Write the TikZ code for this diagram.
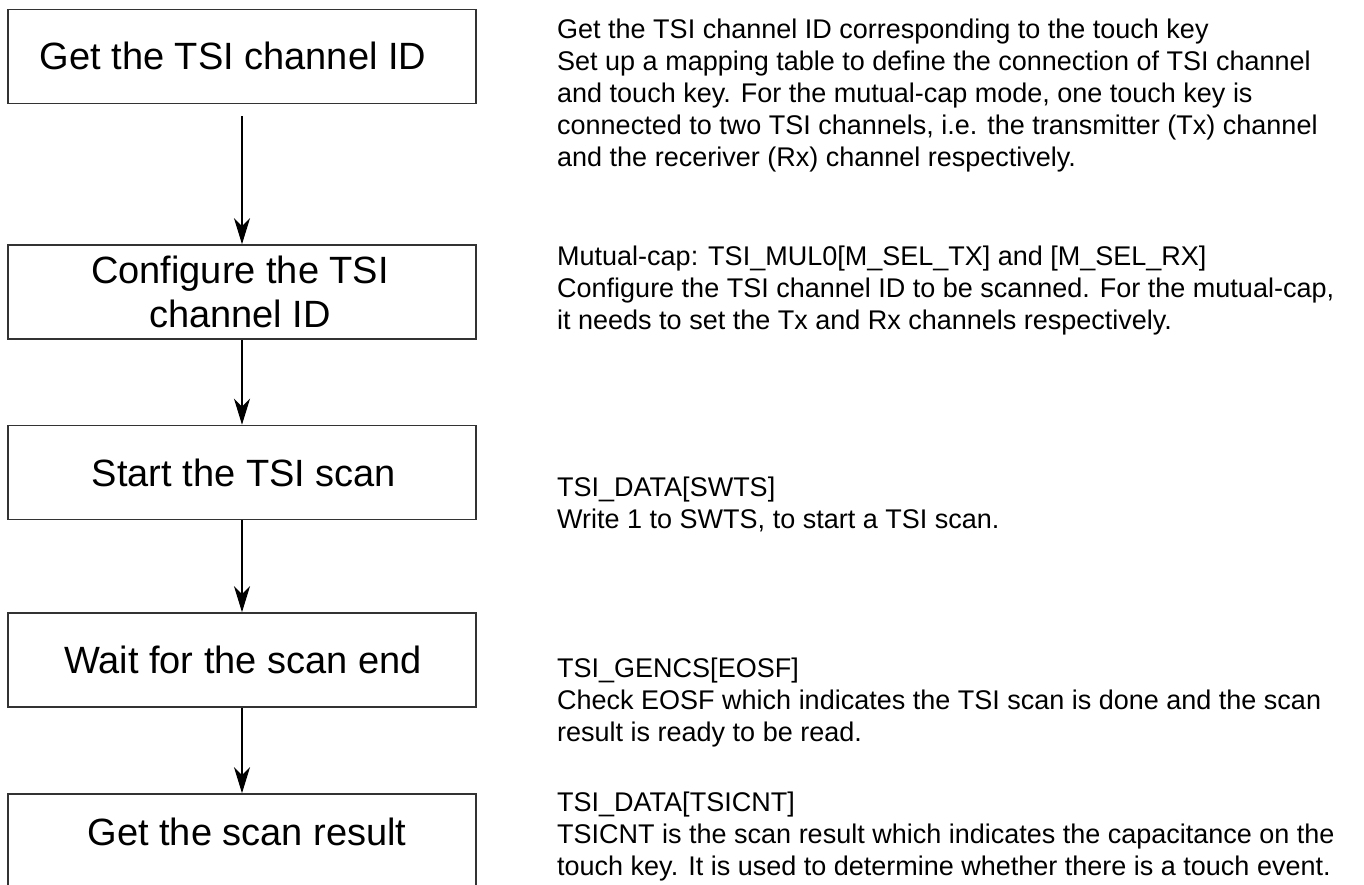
\documentclass[tikz,border=0pt]{standalone}
\usepackage{fontspec}
\setmainfont{Liberation Sans}
\usetikzlibrary{arrows.meta}
\begin{document}
\begin{tikzpicture}[x=1bp,y=-1bp,
  stepbox/.style={draw=black!80, line width=1.6bp, minimum width=468bp, minimum height=94bp, inner sep=0pt},
  boxtext/.style={anchor=base, align=center, inner sep=0pt, font=\fontsize{38bp}{44bp}\selectfont},
  flow/.style={draw=black, line width=1.6bp, -{Stealth[length=26bp,width=16bp,inset=8bp]}},
  desc/.style={anchor=base west, align=left, inner sep=0pt, font=\fontsize{27bp}{32bp}\selectfont}]
\useasboundingbox (0,0) rectangle (1364,884);
\clip (0,0) rectangle (1364,884);
\fill[white] (0,0) rectangle (1364,884);

\node[stepbox] (b1) at (242,56.5) {};
\node[stepbox] (b2) at (242,292) {};
\node[stepbox] (b3) at (242,472.5) {};
\node[stepbox] (b4) at (242,660) {};
\node[stepbox] (b5) at (242,841) {};

\node[boxtext] (t1) at (233,69) {Get the TSI channel ID};
\node[boxtext] (t2) at (240,327) {Configure the TSI\\channel ID};
\node[boxtext] (t3) at (244,486) {Start the TSI scan};
\node[boxtext] (t4) at (243,673) {Wait for the scan end};
\node[boxtext] (t5) at (247,845) {Get the scan result};

\draw[flow, shorten <=12bp] (b1) -- (b2);
\draw[flow] (b2) -- (b3);
\draw[flow] (b3) -- (b4);
\draw[flow] (b4) -- (b5);

\node[desc] (d1) at (557,166) {Get the TSI channel ID corresponding to the touch key\\
Set up a mapping table to define the connection of TSI channel\\
and touch key. For the mutual-cap mode, one touch key is\\
connected to two TSI channels, i.e. the transmitter (Tx) channel\\
and the receriver (Rx) channel respectively.};
\node[desc] (d2) at (557,329) {Mutual-cap: TSI\_MUL0[M\_SEL\_TX] and [M\_SEL\_RX]\\
Configure the TSI channel ID to be scanned. For the mutual-cap,\\
it needs to set the Tx and Rx channels respectively.};
\node[desc] (d3) at (557,528) {TSI\_DATA[SWTS]\\
Write 1 to SWTS, to start a TSI scan.};
\node[desc] (d4) at (557,741) {TSI\_GENCS[EOSF]\\
Check EOSF which indicates the TSI scan is done and the scan\\
result is ready to be read.};
\node[desc] (d5) at (557,875) {TSI\_DATA[TSICNT]\\
TSICNT is the scan result which indicates the capacitance on the\\
touch key. It is used to determine whether there is a touch event.};
\end{tikzpicture}
\end{document}
